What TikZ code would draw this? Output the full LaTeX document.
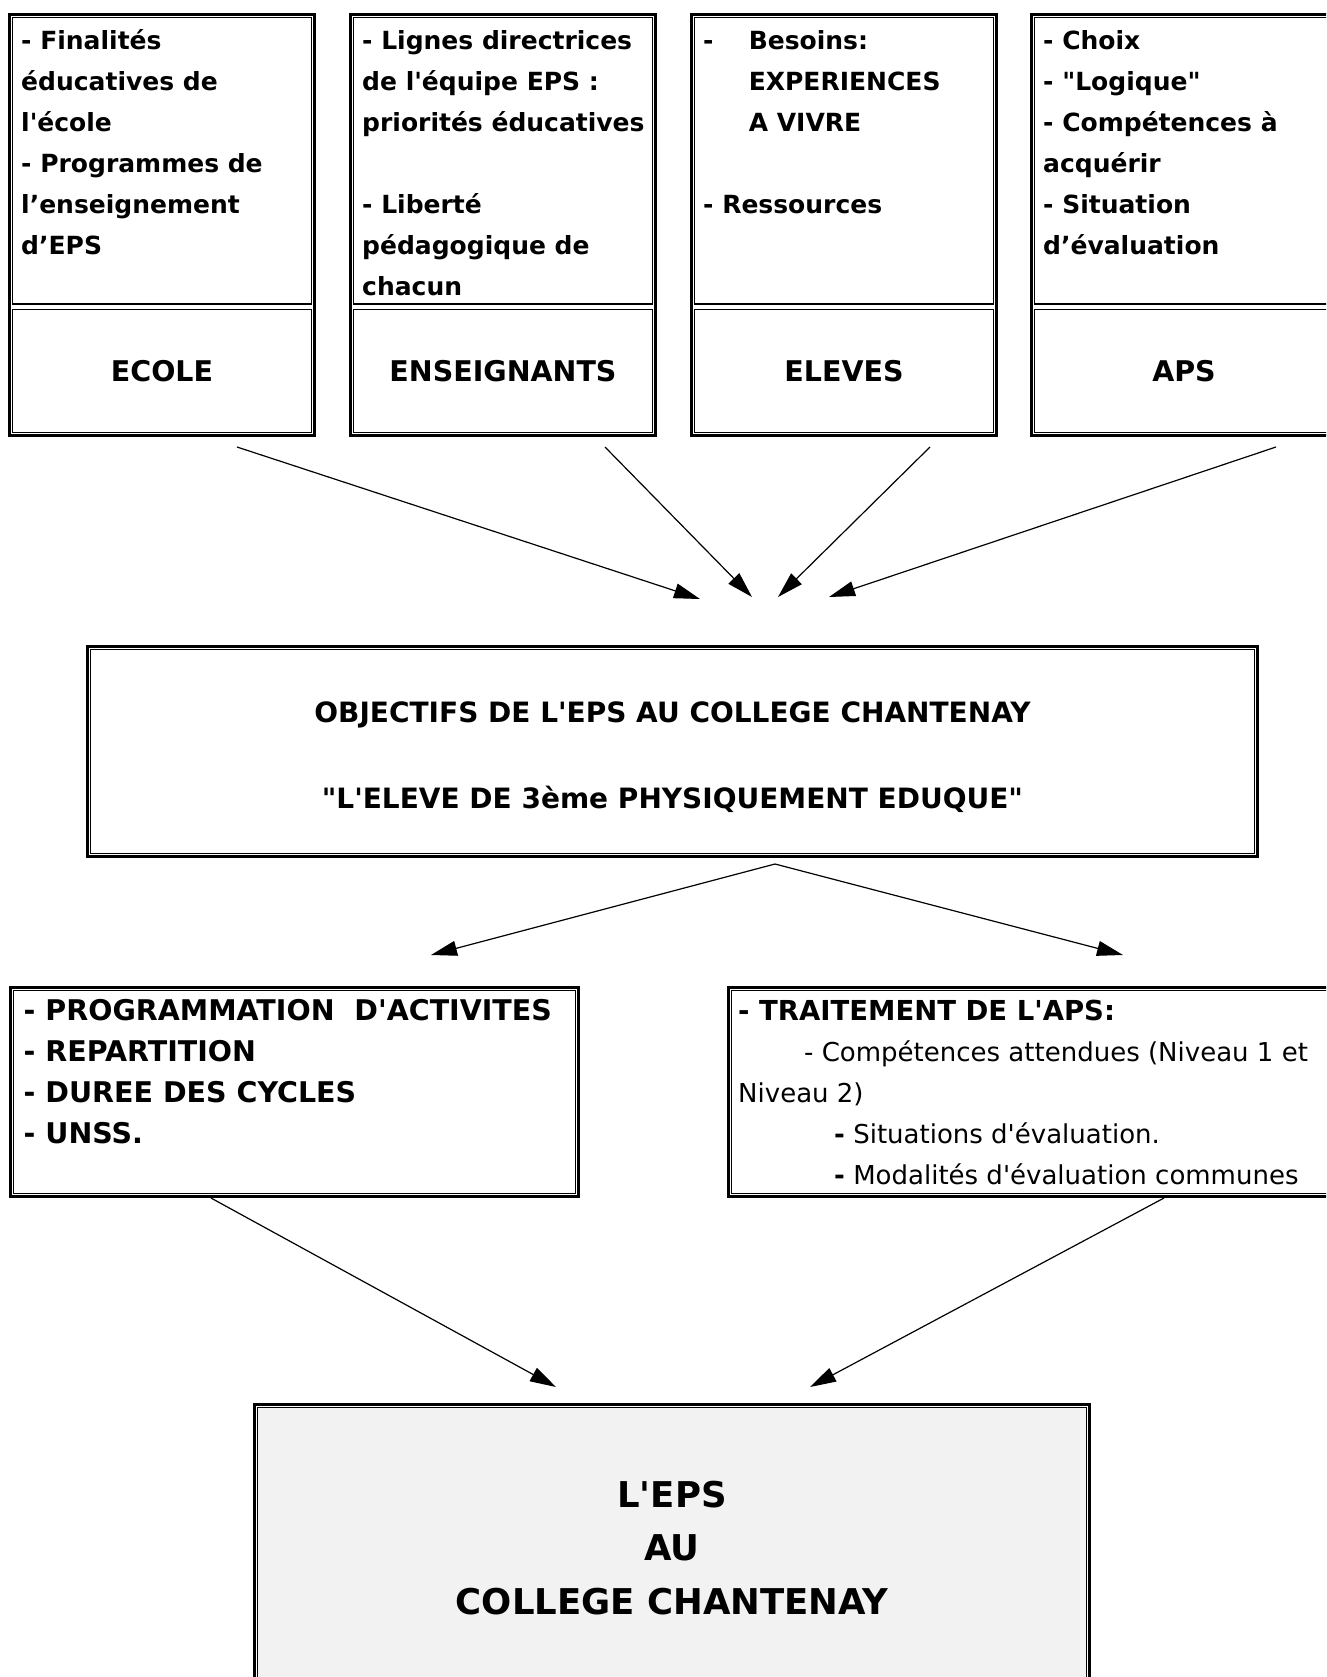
\documentclass[tikz,border=0pt]{standalone}
\usepackage{fontspec}
\setmainfont{DejaVu Sans}[Ligatures=TeXOff]
\usetikzlibrary{arrows.meta}
\definecolor{boxgray}{HTML}{F2F2F2}
\tikzset{
  frame/.style={draw, line width=2.6pt, inner sep=0pt},
  cell/.style={draw, line width=1.3pt, inner sep=0pt, font=\fontsize{28.5}{41}\selectfont\bfseries},
  txt/.style={anchor=north west, align=left, inner sep=0pt, font=\fontsize{25}{41}\selectfont\bfseries},
  flow/.style={-{Triangle[length=26pt,width=15pt]}, line width=1.2pt},
}

\begin{document}
\begin{tikzpicture}[x=1pt,y=-1pt]
\useasboundingbox (0,0) rectangle (1326,1677);
\fill[white] (0,0) rectangle (1326,1677);
\clip (0,0) rectangle (1326,1677);

\node[frame, minimum width=305.4pt, minimum height=421.4pt] (ecole-f) at (162,225) {};
\node[cell, minimum width=298.4pt, minimum height=286.2pt] (ecole-top) at (162,160.9) {};
\node[cell, minimum width=298.4pt, minimum height=122.9pt] (ecole) at (162,370.8) {ECOLE};
\node[txt] (ecole-txt) at (21,20.3) {\strut- Finalités\\éducatives de\\l'école\\- Programmes de\\l’enseignement\\d’EPS};

\node[frame, minimum width=305.4pt, minimum height=421.4pt] (ens-f) at (503,225) {};
\node[cell, minimum width=298.4pt, minimum height=286.2pt] (ens-top) at (503,160.9) {};
\node[cell, minimum width=298.4pt, minimum height=122.9pt] (ens) at (503,370.8) {ENSEIGNANTS};
\node[txt] (ens-txt) at (362,20.3) {\strut- Lignes directrices\\de l'équipe EPS :\\priorités éducatives\\[41pt]- Liberté\\pédagogique de\\chacun};

\node[frame, minimum width=305.4pt, minimum height=421.4pt] (elev-f) at (844,225) {};
\node[cell, minimum width=298.4pt, minimum height=286.2pt] (elev-top) at (844,160.9) {};
\node[cell, minimum width=298.4pt, minimum height=122.9pt] (elev) at (844,370.8) {ELEVES};
\node[txt] (elev-txt) at (703,20.3) {\strut\makebox[45.6pt][l]{-}Besoins:\\\hspace*{45.6pt}EXPERIENCES\\\hspace*{45.6pt}A VIVRE\\[41pt]- Ressources};

\node[frame, minimum width=305.4pt, minimum height=421.4pt] (aps-f) at (1184,225) {};
\node[cell, minimum width=298.4pt, minimum height=286.2pt] (aps-top) at (1184,160.9) {};
\node[cell, minimum width=298.4pt, minimum height=122.9pt] (aps) at (1184,370.8) {APS};
\node[txt] (aps-txt) at (1043,20.3) {\strut- Choix\\- "Logique"\\- Compétences à\\acquérir\\- Situation\\d’évaluation};

\node[frame, minimum width=1170.4pt, minimum height=210.4pt] (obj-f) at (672.5,751.5) {};
\node[cell, minimum width=1163.4pt, minimum height=203.4pt] (obj) at (672.5,751.5) {};
\node[txt, anchor=north, align=center, font=\fontsize{28}{41}\selectfont\bfseries] (obj-txt) at (672.5,693.3)
  {\strut OBJECTIFS DE L'EPS AU COLLEGE CHANTENAY\\[45pt]"L'ELEVE DE 3ème PHYSIQUEMENT EDUQUE"};

\node[frame, minimum width=568.4pt, minimum height=209.4pt] (prog-f) at (294.5,1092) {};
\node[cell, minimum width=561.4pt, minimum height=202.4pt] (prog) at (294.5,1092) {};
\node[txt, font=\fontsize{28.5}{41}\selectfont\bfseries] (prog-txt) at (23.5,991.3)
  {\strut- PROGRAMMATION\ \ D'ACTIVITES\\- REPARTITION\\- DUREE DES CYCLES\\- UNSS.};

\node[frame, minimum width=611.4pt, minimum height=209.4pt] (trait-f) at (1034,1092) {};
\node[cell, minimum width=604.4pt, minimum height=202.4pt] (trait) at (1034,1092) {};
\node[txt, font=\fontsize{26}{41}\selectfont] (trait-txt) at (738,991.3)
  {\strut\textbf{\fontsize{27.5}{41}\selectfont - TRAITEMENT DE L'APS:}\\\hspace*{66pt}- Compétences attendues (Niveau 1 et\\Niveau 2)\\\hspace*{96pt}\textbf{-} Situations d'évaluation.\\\hspace*{96pt}\textbf{-} Modalités d'évaluation communes};

\node[frame, minimum width=835.4pt, minimum height=327.4pt] (eps-f) at (672,1568) {};
\node[cell, fill=boxgray, minimum width=828.4pt, minimum height=320.4pt] (eps) at (672,1568) {};
\node[txt, anchor=north, align=center, font=\fontsize{35.5}{53.5}\selectfont\bfseries] (eps-txt) at (672,1469.5)
  {\strut L'EPS\\AU\\COLLEGE CHANTENAY};

\coordinate (ecole-out) at (237,447);
\coordinate (ens-out) at (605,447);
\coordinate (elev-out) at (930,447);
\coordinate (aps-out) at (1276,447);
\coordinate (obj-in1) at (700,599);
\coordinate (obj-in2) at (752,597);
\coordinate (obj-in3) at (778,597);
\coordinate (obj-in4) at (829,597);
\coordinate (obj-out) at (775,864);
\coordinate (prog-in) at (431,955);
\coordinate (trait-in) at (1123,955);
\coordinate (prog-out) at (211,1198);
\coordinate (trait-out) at (1164,1198);
\coordinate (eps-in1) at (556,1387);
\coordinate (eps-in2) at (810,1387);

\draw[flow] (ecole-out) -- (obj-in1);
\draw[flow] (ens-out) -- (obj-in2);
\draw[flow] (elev-out) -- (obj-in3);
\draw[flow] (aps-out) -- (obj-in4);
\draw[flow] (obj-out) -- (prog-in);
\draw[flow] (obj-out) -- (trait-in);
\draw[flow] (prog-out) -- (eps-in1);
\draw[flow] (trait-out) -- (eps-in2);
\end{tikzpicture}
\end{document}
